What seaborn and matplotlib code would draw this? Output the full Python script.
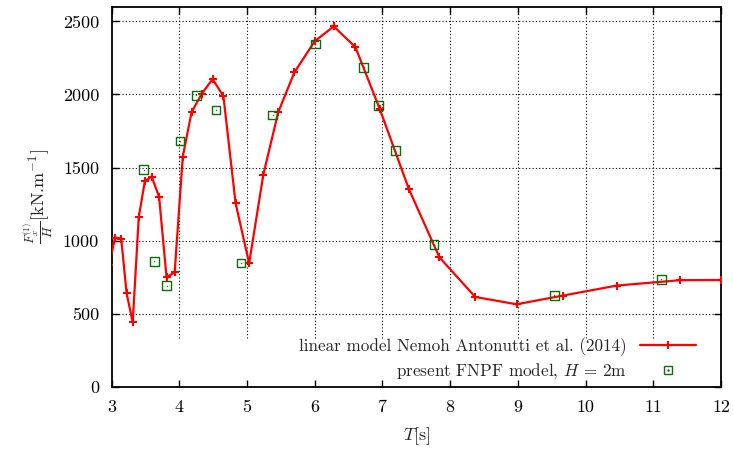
import matplotlib
matplotlib.use("Agg")
import matplotlib.pyplot as plt
import seaborn as sns
import pandas as pd
from matplotlib.lines import Line2D

# Linear model (Nemoh, Antonutti et al. 2014)
lin_T = [2.96, 3.05, 3.14, 3.22, 3.31, 3.40, 3.49, 3.59, 3.70, 3.81, 3.93, 4.05,
         4.18, 4.33, 4.49, 4.65, 4.83, 5.03, 5.24, 5.46, 5.70, 6.00, 6.28, 6.60,
         6.96, 7.39, 7.84, 8.37, 8.98, 9.66, 10.46, 11.40, 12.0]
lin_F = [830, 1021, 1014, 640, 441, 1162, 1407, 1438, 1299, 749, 783, 1575,
         1879, 2005, 2105, 1989, 1256, 845, 1452, 1879, 2153, 2365, 2466, 2324,
         1900, 1352, 886, 614, 564, 623, 692, 729, 730]

# Present FNPF model, H = 2m
fnpf_T = [3.47, 3.63, 3.81, 4.01, 4.25, 4.54, 4.91, 5.38, 6.01, 6.72, 6.94,
          7.19, 7.76, 9.54, 11.12]
fnpf_F = [1486, 859, 690, 1681, 1993, 1893, 847, 1859, 2345, 2185, 1923,
          1614, 973, 626, 735]

x_ticks = [3, 4, 5, 6, 7, 8, 9, 10, 11, 12]
y_ticks = [0, 500, 1000, 1500, 2000, 2500]

lin_label = "linear model Nemoh Antonutti et al. (2014)"
fnpf_label = r"present FNPF model, $H$ = 2m"

sns.set_style("ticks")
plt.rcParams["font.family"] = ["cmr10", "DejaVu Serif"]
plt.rcParams["mathtext.fontset"] = "cm"
plt.rcParams["axes.formatter.use_mathtext"] = True
plt.rcParams["font.size"] = 13

fig = plt.figure(figsize=(7.33, 4.53), dpi=100)
ax = fig.add_axes([0.1524, 0.1464, 0.9836 - 0.1524, 0.985 - 0.1464])

df_lin = pd.DataFrame({"T": lin_T, "F": lin_F})
df_fn = pd.DataFrame({"T": fnpf_T, "F": fnpf_F})

red = "#ff0000"
green = "#0b6e0b"

sns.lineplot(data=df_lin, x="T", y="F", sort=False, color=red, lw=1.6,
             marker="+", markersize=6, markeredgewidth=1.5,
             markeredgecolor=red, ax=ax, zorder=3, clip_on=True)
sns.scatterplot(data=df_fn, x="T", y="F", marker="s", s=40,
                facecolors="none", edgecolor=green, linewidth=1.0,
                ax=ax, zorder=4)
sns.scatterplot(data=df_fn, x="T", y="F", marker=".", s=2,
                color=green, edgecolor=green, linewidth=0.3,
                ax=ax, zorder=4)

ax.set_xlim(3, 12)
ax.set_ylim(0, 2600)
ax.set_xticks(x_ticks)
ax.set_yticks(y_ticks)
ax.set_xticklabels([str(t) for t in x_ticks])
ax.set_yticklabels([str(t) for t in y_ticks])

# grid: horizontal across, vertical stopping above the key
for yv in y_ticks[1:]:
    ax.axhline(yv, color="black", lw=0.8, ls=(0, (1, 2)), zorder=1)
for xv in x_ticks[1:-1]:
    ax.axvline(xv, ymin=334 / 2600, ymax=1, color="black", lw=0.8,
               ls=(0, (1, 2)), zorder=1)

ax.tick_params(direction="in", top=True, right=True, length=5, width=1,
               labelsize=13, pad=9, colors="black")
for s in ax.spines.values():
    s.set_linewidth(1.3)
    s.set_color("black")

ax.set_xlabel(r"$T$[s]", fontsize=13, labelpad=8)
ax.set_ylabel(r"$\frac{F_x^{(1)}}{H}$[kN.m$^{-1}$]", fontsize=13, labelpad=6)

h1 = Line2D([], [], color=red, lw=1.6, marker="+", markersize=6,
            markeredgewidth=1.5)
h2a = Line2D([], [], ls="none", marker="s", markersize=6,
             markerfacecolor="none", markeredgecolor=green, markeredgewidth=1.0)
h2b = Line2D([], [], ls="none", marker=".", markersize=1.5, color=green)
leg = ax.legend([h1, (h2a, h2b)], [lin_label, fnpf_label], loc="lower right",
                bbox_to_anchor=(0.959, 0.015), frameon=False, markerfirst=False,
                handlelength=3.3, handletextpad=0.75, labelspacing=0.3,
                borderpad=0, borderaxespad=0, fontsize=12.3)
for t in leg.get_texts():
    t.set_ha("right")

fig.savefig("out.png", dpi=100)
